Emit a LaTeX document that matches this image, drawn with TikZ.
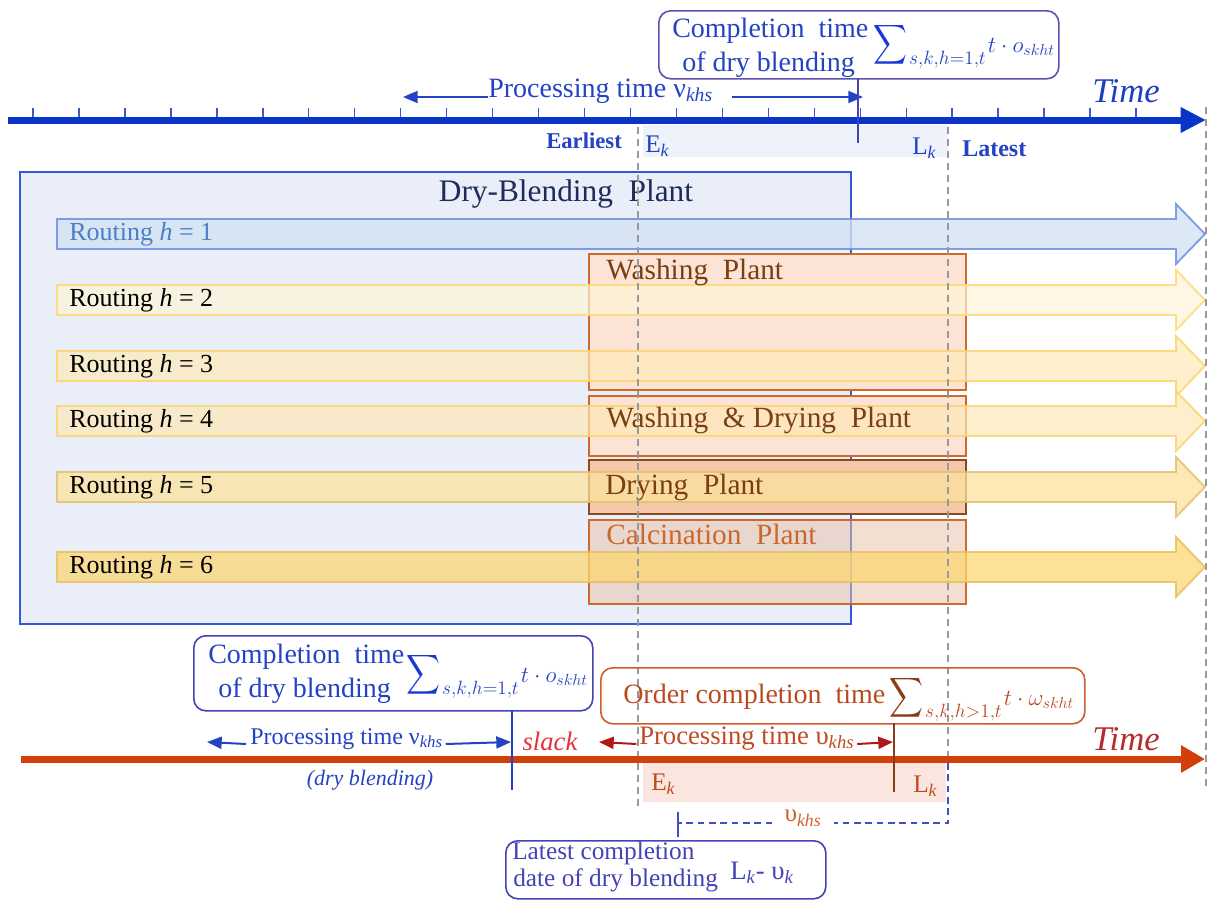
\documentclass[tikz,border=0pt]{standalone}
\usepackage{exscale}
\usepackage{graphicx}
\usepackage{fontspec}
\setmainfont{Liberation Serif}
\usetikzlibrary{arrows.meta}
\definecolor{axblue}{HTML}{0A34C8}
\definecolor{tickblue}{HTML}{3A5CC8}
\definecolor{timeblue}{HTML}{1C3FBF}
\definecolor{txtblue}{HTML}{2442C4}
\definecolor{sigblue}{HTML}{1A38D8}
\definecolor{boxpurple}{HTML}{5E50B2}
\definecolor{boxblue}{HTML}{4343B6}
\definecolor{bandblue}{HTML}{EEF2FB}
\definecolor{dryfill}{HTML}{E9EEF8}
\definecolor{dryedge}{HTML}{3358D8}
\definecolor{drytxt}{HTML}{1E2B5C}
\definecolor{rAf}{HTML}{D3E2F3}
\definecolor{rAd}{HTML}{6D8FE0}
\definecolor{rBf}{HTML}{FFF4D7}
\definecolor{rBd}{HTML}{FFD875}
\definecolor{rCf}{HTML}{FEEABA}
\definecolor{rCd}{HTML}{FFD46A}
\definecolor{rDf}{HTML}{FEE8B6}
\definecolor{rDd}{HTML}{FAD470}
\definecolor{rEf}{HTML}{FCE29C}
\definecolor{rEd}{HTML}{E2C070}
\definecolor{rFf}{HTML}{FCD774}
\definecolor{rFd}{HTML}{E8C060}
\definecolor{routeblue}{HTML}{4A7FC8}
\definecolor{plantfill}{HTML}{FBE4D5}
\definecolor{plantedge}{HTML}{CD6A2C}
\definecolor{dryingfill}{HTML}{F6C8AA}
\definecolor{dryingedge}{HTML}{8B4A22}
\definecolor{calcfill}{HTML}{E9C3AD}
\definecolor{planttxt}{HTML}{7A3E12}
\definecolor{calctxt}{HTML}{C8682C}
\definecolor{axred}{HTML}{D13F0B}
\definecolor{timered}{HTML}{B52A2A}
\definecolor{orderedge}{HTML}{D05A2A}
\definecolor{ordertxt}{HTML}{B84A22}
\definecolor{sigbrown}{HTML}{8B3A1A}
\definecolor{slackred}{HTML}{E8303A}
\definecolor{arrred}{HTML}{B01818}
\definecolor{procred}{HTML}{C04A20}
\definecolor{pinkband}{HTML}{FBE5DF}
\definecolor{dashblue}{HTML}{4050C0}
\definecolor{ukhs}{HTML}{D0602A}
\newcommand\fsz[2]{\fontsize{#1}{#2}\selectfont}
\newcommand\subi[1]{\textsubscript{\textit{#1}}}
\newcommand\bigsum[3]{{\color{#1}\fsz{20}{24}\scalebox{0.85}[1]{$\displaystyle\sum$}}\hspace{1.5pt}\raisebox{-9.5pt}{\fsz{14.5}{17}$#2$}\hspace{1.5pt}{\fsz{18.5}{22}$#3$}}
\begin{document}
\begin{tikzpicture}[x=0.75pt,y=-0.75pt,
  txt/.style={inner sep=0pt},
  rbox/.style={draw, rounded corners=9pt, line width=1.2pt, anchor=north west, inner sep=0pt},
  plantbox/.style={draw=plantedge, line width=1.5pt, fill=plantfill, anchor=north west, inner sep=0pt},
  gdash/.style={draw=black!40, line width=0.9pt, dash pattern=on 5pt off 4pt},
  bdash/.style={draw=dashblue, line width=1.3pt, dash pattern=on 5pt off 3.5pt},
  barrow/.style={draw=txtblue, line width=1.5pt, -{Triangle[length=11pt,width=9pt]}},
  rarrow/.style={draw=arrred, line width=1.5pt, -{Triangle[length=11pt,width=9pt]}},
  plantlbl/.style={txt, anchor=west, text=planttxt, font=\fsz{22}{26}},
  routelbl/.style={txt, anchor=west, font=\fsz{19.5}{23}}]
\useasboundingbox (0,0) rectangle (1208,900);

% ---------- upper time axis ----------
\fill[bandblue] (643,125) rectangle (948,157);
\coordinate (taxL) at (8,120);
\coordinate (taxR) at (1206,120);
\draw[axblue, line width=5.25pt, -{Triangle[length=19pt,width=18pt]}] (taxL) -- (taxR);
\foreach \i in {0,...,24} \draw[tickblue, line width=1.1pt] ({33+45.96*\i},108) -- ({33+45.96*\i},117);
\node[txt, anchor=base west, text=timeblue, font=\fsz{26}{30}\itshape] (timeT) at (1092,102) {Time};

\node[rbox, draw=boxpurple, minimum width=300pt, minimum height=51pt] (ctop) at (658,10) {};
\node[txt, anchor=base west, text=txtblue, font=\fsz{21}{25}] (ctop1) at (672,37) {Completion~ time};
\node[txt, anchor=base west, text=txtblue, font=\fsz{21}{25}] (ctop2) at (682,71) {of dry blending};
\node[txt, anchor=base west, text=txtblue] (ctopS) at (873,52) {\bigsum{sigblue}{s{,}k{,}h{=}1{,}t}{t\cdot o_{skht}}};

\node[txt, anchor=base west, text=txtblue, font=\fsz{21}{25}] (ptop) at (488,97) {Processing time ν\subi{khs}};
\coordinate (ptopL) at (403,97);
\coordinate (ptopR) at (863,97);
\draw[barrow] (ptop.base west) -- (ptopL);
\draw[barrow] ([xshift=14]ptop.base east) -- (ptopR);
\coordinate (vtopA) at (858,78);
\coordinate (vtopB) at (858,143);
\draw[boxblue, line width=1.4pt] (vtopA) -- (vtopB);

\node[txt, anchor=base west, text=txtblue, font=\fsz{17}{20}\bfseries] (earl) at (546,148) {Earliest};
\node[txt, anchor=base west, text=txtblue, font=\fsz{19}{22}] (Ektop) at (645,152) {E\subi{k}};
\node[txt, anchor=base west, text=txtblue, font=\fsz{19}{22}] (Lktop) at (912,154) {L\subi{k}};
\node[txt, anchor=base west, text=txtblue, font=\fsz{18}{21}\bfseries] (late) at (962,156) {Latest};

% ---------- plants ----------
\node[draw=dryedge, fill=dryfill, line width=1.3pt, anchor=north west, inner sep=0pt, minimum width=623.25pt, minimum height=339pt] (dry) at (19,171) {};
\node[draw=plantedge, line width=1.5pt, fill=calcfill, fill opacity=0.55, anchor=north west, inner sep=0pt, minimum width=282.75pt, minimum height=63pt] (calc) at (588,519) {};
\node[plantbox, minimum width=282.75pt, minimum height=102pt] (wash) at (588,253) {};
\node[plantbox, minimum width=282.75pt, minimum height=45pt] (wd) at (588,395) {};
\node[plantbox, draw=dryingedge, fill=dryingfill, minimum width=282.75pt, minimum height=40.5pt] (drying) at (588,459) {};

\foreach \yy/\fc/\dc/\op/\tc/\nm in {234/rAf/rAd/0.8/routeblue/1, 300/rBf/rBd/0.7/black/2, 366/rCf/rCd/0.7/black/3, 421/rDf/rDd/0.7/black/4, 487/rEf/rEd/0.75/black/5, 567/rFf/rFd/0.75/black/6}{
  \filldraw[fill=\fc, draw=\dc, fill opacity=\op, draw opacity=0.85, line width=1.4pt]
    (57,\yy-15) -- (1176,\yy-15) -- (1176,\yy-30) -- (1205,\yy) -- (1176,\yy+30) -- (1176,\yy+15) -- (57,\yy+15) -- cycle;
  \node[routelbl, text=\tc] (route\nm) at (69,\yy) {Routing \textit{h} = \nm};
}

\node[txt, text=drytxt, font=\fsz{23.5}{28}] (dryT) at (566,194) {Dry-Blending~ Plant};
\node[plantlbl] (washT) at (606,272) {Washing~ Plant};
\node[plantlbl] (wdT) at (606,420) {Washing~ \& Drying~ Plant};
\node[plantlbl] (dryingT) at (605,487) {Drying~ Plant};
\node[plantlbl, text=calctxt] (calcT) at (606,534) {Calcination~ Plant};

% ---------- dashed guides ----------
\coordinate (gA1) at (638,127); \coordinate (gA2) at (638,810);
\coordinate (gB1) at (948,127); \coordinate (gB2) at (948,762);
\coordinate (gC1) at (1206,107); \coordinate (gC2) at (1206,790);
\draw[gdash] (gA1) -- (gA2);
\draw[gdash] (gB1) -- (gB2);
\draw[gdash] (gC1) -- (gC2);

% ---------- lower time axis ----------
\fill[pinkband] (643,763) rectangle (946,802);
\coordinate (baxL) at (21,759);
\coordinate (baxR) at (1205,759);
\draw[axred, line width=5.25pt, -{Triangle[length=18pt,width=19.5pt]}] (baxL) -- (baxR);
\node[txt, anchor=base west, text=timered, font=\fsz{26}{30}\itshape] (timeB) at (1092,750) {Time};

\node[rbox, draw=boxblue, minimum width=299.25pt, minimum height=56.25pt] (cbot) at (193,635) {};
\node[txt, anchor=base west, text=txtblue, font=\fsz{21}{25}] (cbot1) at (208,663) {Completion~ time};
\node[txt, anchor=base west, text=txtblue, font=\fsz{21}{25}] (cbot2) at (218,697) {of dry blending};
\node[txt, anchor=base west, text=txtblue] (cbotS) at (406,682) {\bigsum{sigblue}{s{,}k{,}h{=}1{,}t}{t\cdot o_{skht}}};

\node[txt, anchor=base west, text=txtblue, font=\fsz{18}{21}] (pbot) at (250,744) {Processing time ν\subi{khs}};
\coordinate (pbotL) at (207,742);
\coordinate (pbotR) at (511,742);
\draw[barrow] ([xshift=-3]pbot.base west) -- (pbotL);
\draw[barrow] ([xshift=2]pbot.base east) -- (pbotR);
\coordinate (vbotA) at (512,710);
\coordinate (vbotB) at (512,790);
\draw[txtblue, line width=1.4pt] (vbotA) -- (vbotB);
\node[txt, text=txtblue, font=\fsz{16.5}{19}\itshape] (dryb) at (370,780) {(dry blending)};
\node[txt, text=slackred, font=\fsz{20}{23}\itshape] (slack) at (550,741) {slack};

\node[rbox, draw=orderedge, minimum width=363pt, minimum height=42pt] (order) at (600,667) {};
\node[txt, anchor=west, text=ordertxt, font=\fsz{21}{25}] (order1) at (623,697) {Order completion~ time};
\node[txt, anchor=base west, text=ordertxt] (orderS) at (889,705) {\bigsum{sigbrown}{s{,}k{,}h{>}1{,}t}{t\cdot \omega_{skht}}};

\node[txt, anchor=base west, text=procred, font=\fsz{20}{23}] (pred) at (639,744) {Processing time υ\subi{khs}};
\coordinate (predL) at (599,742);
\coordinate (predR) at (893,742);
\draw[rarrow] ([xshift=-2]pred.base west) -- (predL);
\draw[rarrow] ([xshift=2]pred.base east) -- (predR);
\coordinate (vredA) at (894,723);
\coordinate (vredB) at (894,792);
\draw[sigbrown, line width=1pt] (vredA) -- (vredB);

\node[txt, anchor=base west, text=procred, font=\fsz{19}{22}] (Ekbot) at (651,790) {E\subi{k}};
\node[txt, anchor=base west, text=procred, font=\fsz{19}{22}] (Lkbot) at (913,792) {L\subi{k}};

\node[txt, text=ukhs, font=\fsz{19}{22}, inner xsep=9pt] (uk) at (803,818) {υ\subi{khs}};
\coordinate (dTop) at (948,763);
\coordinate (dCorner) at (948,823);
\coordinate (dLeft) at (678,823);
\draw[bdash] (dTop) -- (dCorner) -- (dCorner -| uk.east);
\draw[bdash] (dLeft -| uk.west) -- (dLeft);
\coordinate (tkA) at (678,812);
\coordinate (tkB) at (678,837);
\draw[dashblue, line width=1.3pt] (tkA) -- (tkB);

\node[rbox, draw=boxblue, minimum width=240pt, minimum height=43.5pt] (latest) at (505,840) {};
\node[txt, anchor=west, text=boxblue, font=\fsz{19}{22}] (lat1) at (512,853) {Latest completion};
\node[txt, anchor=west, text=boxblue, font=\fsz{19}{22}] (lat2) at (513,880) {date of dry blending};
\node[txt, anchor=west, text=boxblue, font=\fsz{20}{24}] (lat3) at (730,873) {L\subi{k}- υ\subi{k}};
\end{tikzpicture}
\end{document}
